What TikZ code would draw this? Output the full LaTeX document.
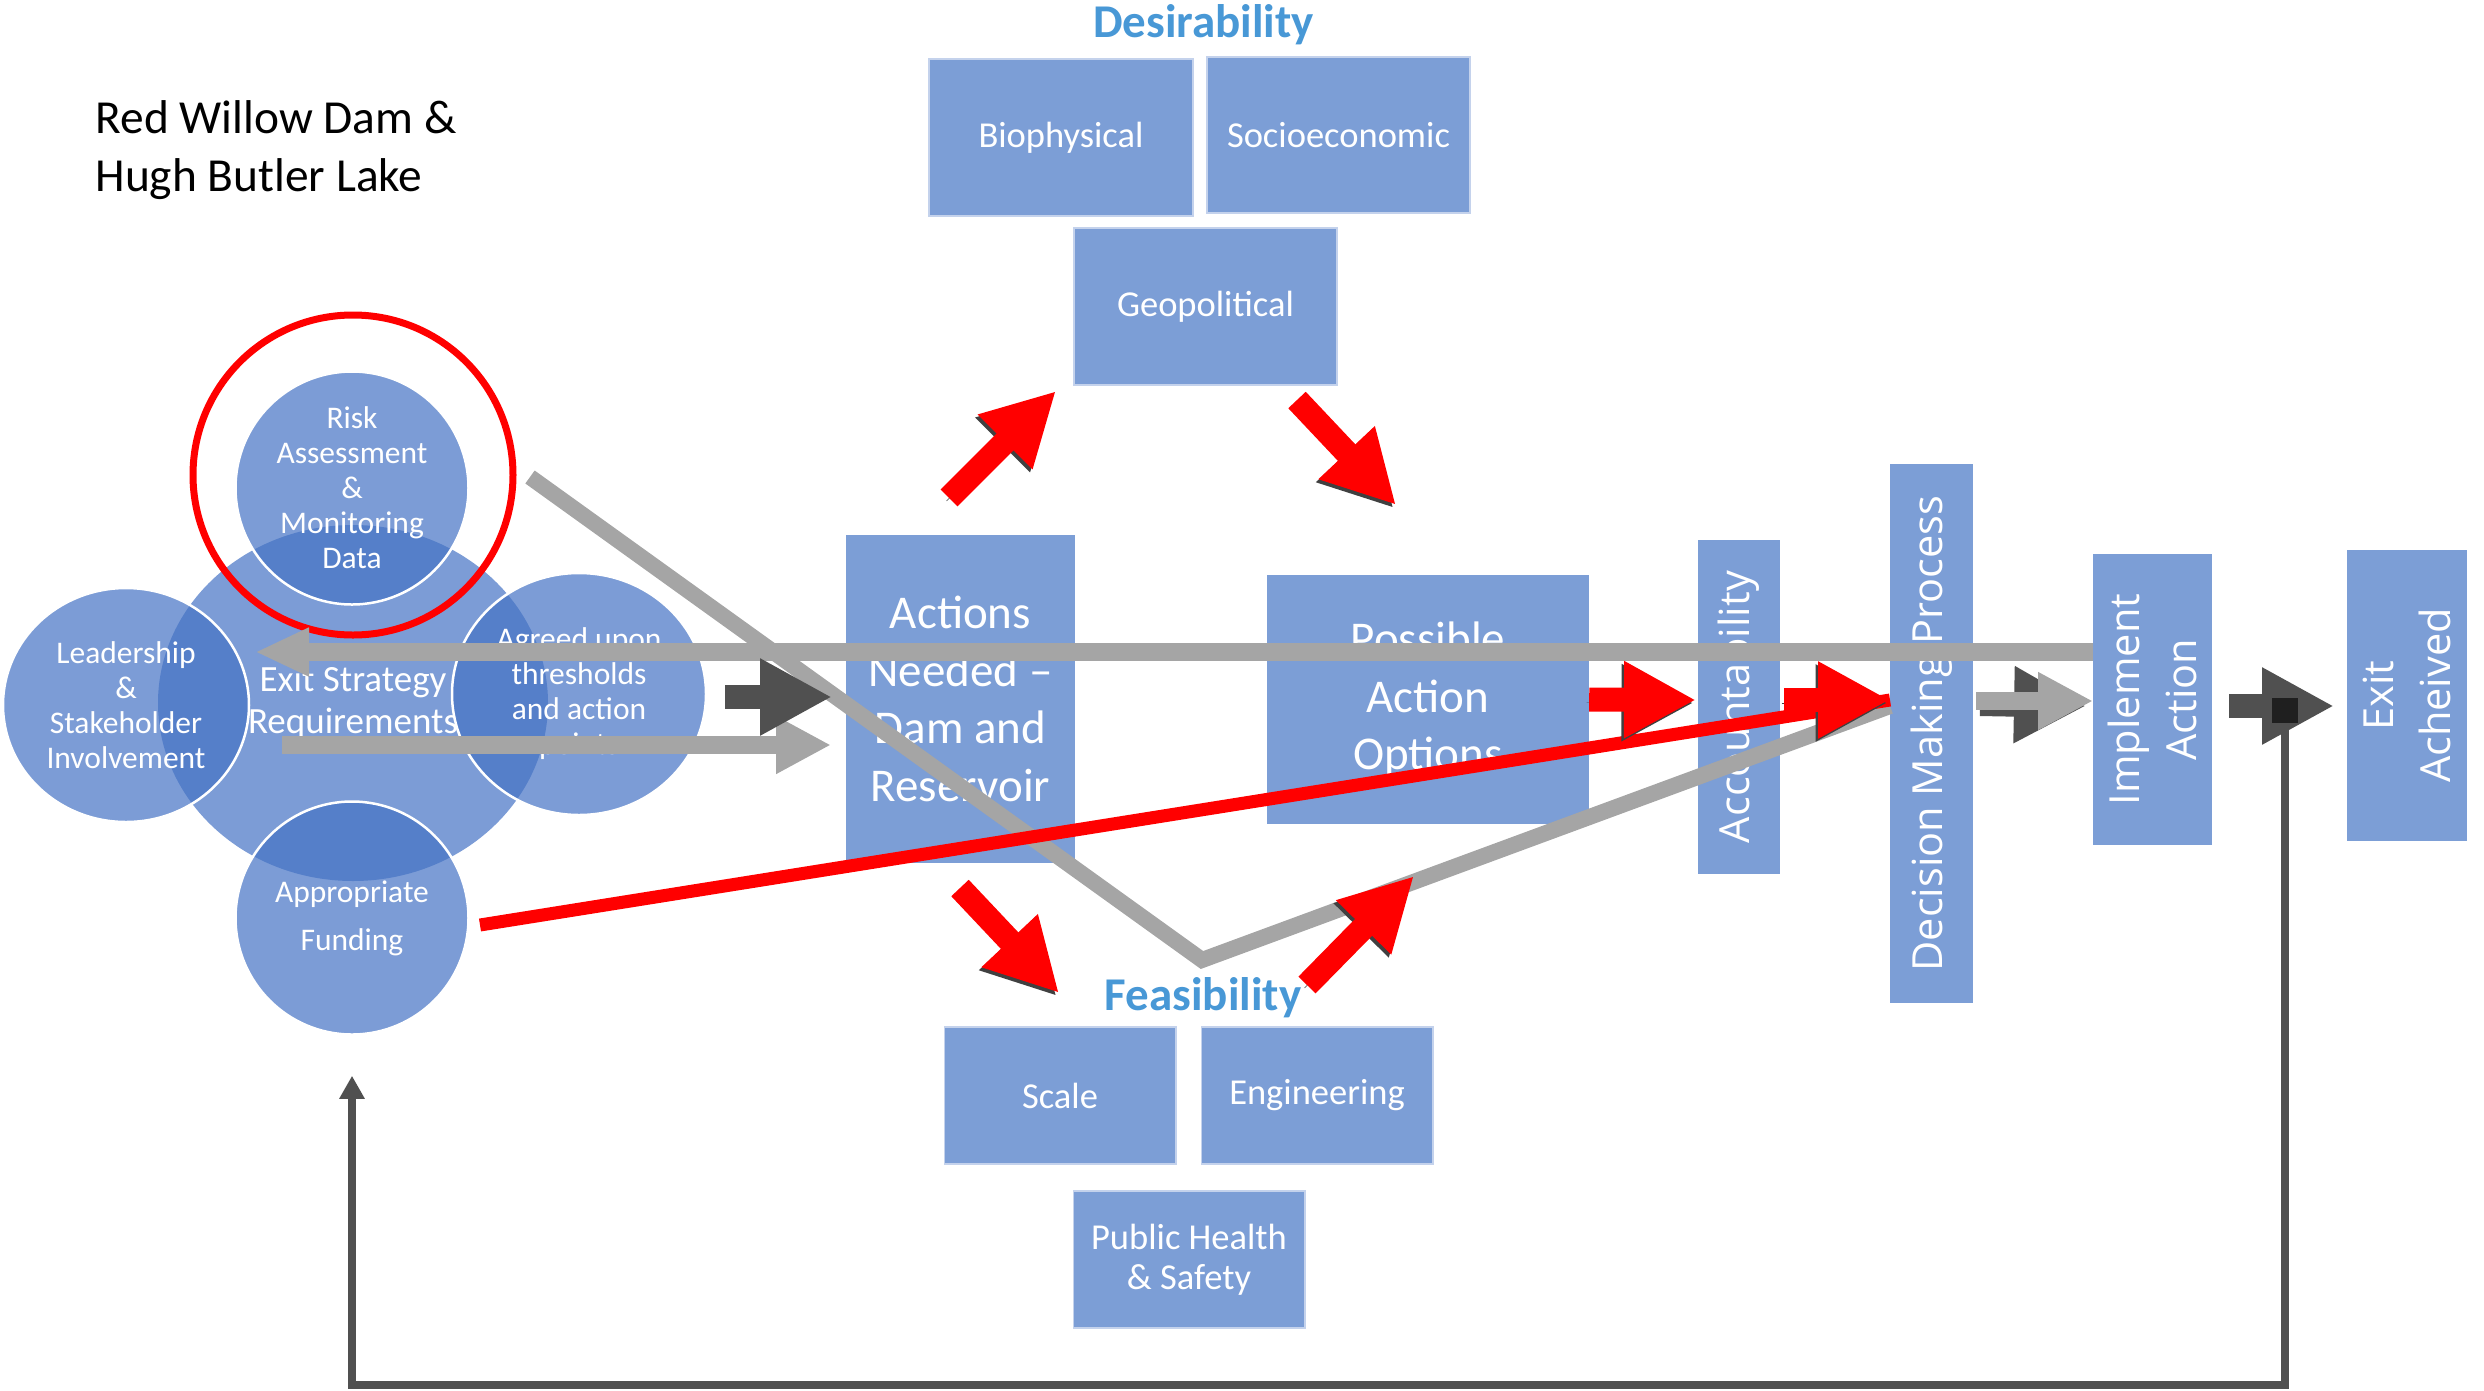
\documentclass[tikz,border=0pt]{standalone}
\usepackage{fontspec}
\setmainfont{Carlito}
\newfontfamily\uifont{Open Sans}
\usetikzlibrary{arrows.meta,shapes.geometric}
\definecolor{vennblue}{RGB}{68,114,196}
\definecolor{boxblue}{RGB}{124,158,214}
\definecolor{boxedge}{RGB}{196,210,236}
\definecolor{headblue}{RGB}{72,152,214}
\definecolor{linegray}{RGB}{165,165,165}
\definecolor{darkarrow}{RGB}{80,80,80}
\definecolor{shadowgray}{RGB}{64,64,64}
\newcommand{\fs}[2]{\fontsize{#1}{#2}\selectfont}

\begin{document}
\begin{tikzpicture}[x=1pt, y=-1pt,
    venn/.style={ellipse, fill=vennblue, fill opacity=.7, text opacity=1, draw=white, line width=2.5pt, text=white, align=center, inner sep=-30pt, font=\fs{31.5}{35}},
    core/.style={venn, draw=none},
    tile/.style={rectangle, fill=boxblue, text=white, align=center, inner sep=0pt},
    subtile/.style={tile, draw=boxedge, line width=1.5pt, minimum width=264pt, minimum height=157pt, font=\fs{36.5}{40}},
    small/.style={subtile, minimum width=231.5pt, minimum height=137pt},
    stage/.style={tile, font=\fs{47}{57.5}},
    upright/.style={tile, rotate=90, font=\uifont\fs{41.5}{57}},
    heading/.style={text=headblue, font=\bfseries\fs{47}{57}, anchor=base},
    redblock/.style={draw=red, line width=24pt, -{Triangle[length=72pt,width=72pt]}, preaction={draw=shadowgray, transform canvas={shift={(-2.5pt,-3pt)}}}},
    darkblock/.style={draw=darkarrow, line width=24pt, -{Triangle[length=72pt,width=72pt]}},
    grayarrow/.style={draw=linegray, line width=18pt, -{Triangle[length=55pt,width=54pt]}},
    grayline/.style={draw=linegray, line width=16pt, line join=miter},
    redline/.style={draw=red, line width=13pt},
    feedback/.style={draw=darkarrow, line width=8pt, {Square[length=25pt,width=26pt,color=black!88]}-{Triangle[length=23pt,width=24pt]}},
  ]
    \useasboundingbox (0,0) rectangle (2484,1390);

    \node[anchor=base west, font=\fs{47.4}{58}] (title1) at (92,133) {Red Willow Dam \&};
    \node[anchor=base west, font=\fs{47.4}{58}] (title2) at (92,191) {Hugh Butler Lake};
    \node[heading] (desir) at (1203.5,37) {Desirability};
    \node[heading] (feas) at (1203,1010) {Feasibility};

    \node[core, minimum width=390pt, minimum height=356pt, font=\fs{37}{42}] (exitreq) at (353,703) {Exit Strategy\\Requirements};
    \node[venn, minimum width=246pt, minimum height=234pt] (lead) at (126,705) {Leadership\\\&\\Stakeholder\\Involvement};
    \node[venn, minimum width=254pt, minimum height=242pt] (agreed) at (579,694) {Agreed upon\\thresholds\\and action\\points};
    \node[venn, minimum width=233pt, minimum height=233pt] (risk) at (352,488) {Risk\\Assessment\\\&\\Monitoring\\Data};
    \node[venn, minimum width=233pt, minimum height=233pt, font=\fs{31.5}{48}] (fund) at (352,918) {Appropriate\\Funding};
    \node[circle, draw=red, line width=7pt, minimum size=320pt, inner sep=0pt] (riskring) at (353,475) {};

    \node[subtile] (bio) at (1061,137.5) {Biophysical};
    \node[subtile, minimum width=263pt, minimum height=156pt] (socio) at (1338.5,135) {Socioeconomic};
    \node[subtile, minimum width=263pt] (geo) at (1205.5,306.5) {Geopolitical};
    \node[small] (scale) at (1060,1095.5) {Scale};
    \node[small] (engin) at (1317,1095.5) {Engineering};
    \node[small] (health) at (1189,1259.5) {Public Health\\\& Safety};

    \node[stage, minimum width=229pt, minimum height=328pt] (actions) at (960.5,699) {Actions\\Needed --\\Dam and\\Reservoir};
    \node[stage, minimum width=322pt, minimum height=249pt] (possible) at (1428,699.5) {Possible\\Action\\Options};
    \node[upright, minimum width=334pt, minimum height=82pt] (account) at (1739,707) {Accountability};
    \node[upright, minimum width=539pt, minimum height=83pt] (decision) at (1931.5,733.5) {Decision Making Process};
    \node[upright, minimum width=291pt, minimum height=119pt] (implement) at (2152.5,699.5) {Implement\\Action};
    \node[upright, minimum width=291pt, minimum height=120pt] (exit) at (2407,695.5) {Exit\\Acheived};

    \coordinate (backstart) at (2093,652);
    \coordinate (backend) at (255,652);
    \coordinate (fwdstart) at (282,745);
    \coordinate (fwdend) at (831,745);
    \coordinate (vstart) at (530,477);
    \coordinate (vbend) at (1202,960);
    \coordinate (dmpgray) at (1890,706);
    \coordinate (fundout) at (480,925);
    \coordinate (dmpred) at (1890,700);
    \coordinate (accin) at (1696,700);
    \coordinate (accout) at (1784,700);
    \coordinate (circout) at (725,697);
    \coordinate (actin) at (832,697);
    \coordinate (a1s) at (949,498);
    \coordinate (a1e) at (1056,391);
    \coordinate (a2s) at (1297,400);
    \coordinate (a2e) at (1396,505);
    \coordinate (a3s) at (960,888);
    \coordinate (a3e) at (1059,993);
    \coordinate (a4s) at (1307,985);
    \coordinate (a4e) at (1414,876);
    \coordinate (dmpout) at (1976,701);
    \coordinate (impin) at (2093,701);
    \coordinate (impout) at (2229,706);
    \coordinate (exitin) at (2334,706);
    \coordinate (fbstart) at (2285,698);

    \draw[grayline] (vstart) -- (vbend) -- (dmpgray);
    \draw[grayarrow, -{Triangle[length=54pt,width=45pt]}] (backstart) -- (backend);
    \draw[grayarrow] (fwdstart) -- (fwdend);
    \draw[redline] (fundout) -- (dmpred);

    \draw[redblock] (a1s) -- (a1e);
    \draw[redblock] (a2s) -- (a2e);
    \draw[redblock] (a3s) -- (a3e);
    \draw[redblock] (a4s) -- (a4e);
    \draw[redblock] (possible.east) -- (accin);
    \draw[redblock] (accout) -- (dmpred);
    \draw[darkblock] (circout) -- (actin);
    \draw[darkblock] (1980,704) -- (2086,706);
    \draw[grayarrow] (dmpout) -- (impin);
    \draw[darkblock] (impout) -- (exitin);

    \draw[feedback] (fbstart) -- ++(0,687) -| ([yshift=-40pt]fund.south);
\end{tikzpicture}
\end{document}
